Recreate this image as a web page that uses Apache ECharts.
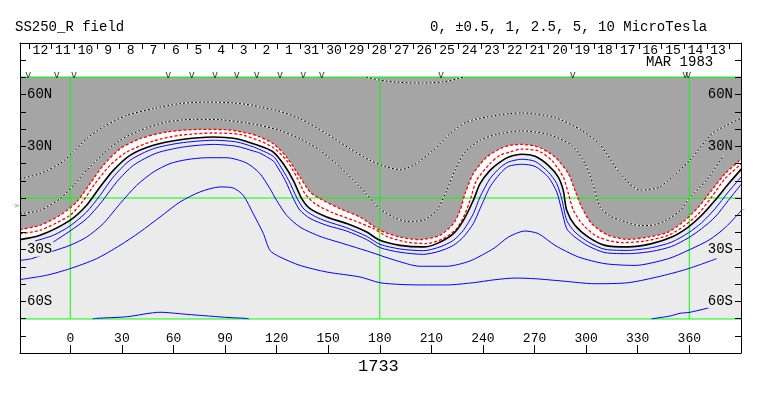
<!DOCTYPE html>
<html><head><meta charset="utf-8">
<script src="https://cdn.jsdelivr.net/npm/echarts@6/dist/echarts.min.js"></script>
<style>html,body{margin:0;padding:0;background:#fff}#c{width:763px;height:396px}</style>
</head><body><div id="c"></div>
<script>
// ---- data: [Carrington longitude, latitude] ----
const neutralLine = [[-29.3,-24.1],[-17.6,-21.6],[-0.2,-12.9],[9.5,-4.2],[17.3,6.4],[25.0,16.0],[34.7,24.7],[48.3,30.5],[63.8,33.7],[83.2,35.3],[96.8,34.3],[106.4,31.4],[112.0,29.5],[118.1,26.6],[123.9,19.8],[129.7,10.2],[134.6,-0.4],[139.4,-6.2],[149.1,-11.0],[160.8,-14.8],[172.4,-19.7],[180.1,-24.5],[191.8,-27.4],[205.3,-28.3],[213.1,-26.4],[222.8,-20.6],[228.6,-12.9],[234.4,-1.3],[238.3,8.3],[244.1,16.0],[249.9,20.8],[255.0,23.7],[262.5,25.3],[270.3,24.1],[278.0,18.9],[283.8,12.1],[286.7,4.4],[288.7,-7.1],[293.5,-15.8],[301.3,-22.6],[311.0,-27.4],[324.5,-28.3],[338.1,-26.4],[349.8,-22.6],[359.4,-16.8],[367.2,-10.0],[375.0,-1.3],[382.7,8.1],[390.5,17.0]];
const redOuter = [[-29.3,-18.3],[-17.6,-15.8],[-6.0,-10.0],[3.7,-2.3],[11.5,8.3],[19.2,18.9],[29.0,28.5],[40.5,34.3],[56.1,38.2],[75.4,39.7],[91.0,39.5],[104.5,37.2],[110.3,35.3],[118.1,31.4],[125.8,23.7],[133.6,12.1],[139.4,3.5],[145.2,-0.4],[156.9,-6.2],[168.5,-11.0],[180.1,-18.7],[191.8,-22.6],[203.4,-24.1],[215.0,-21.6],[222.8,-14.8],[226.7,-7.1],[229.6,2.5],[234.4,14.1],[242.2,23.7],[249.9,28.5],[255.7,30.5],[262.5,31.0],[272.2,29.5],[281.9,23.7],[289.7,14.1],[293.5,4.4],[297.4,-5.2],[303.2,-14.8],[312.9,-21.6],[324.5,-23.9],[336.2,-22.6],[347.8,-19.7],[357.5,-12.9],[365.3,-5.2],[373.0,4.4],[380.8,14.1],[390.5,22.8]];
const redInner = [[-29.3,-20.6],[-17.6,-18.7],[-0.2,-10.0],[7.6,-1.4],[14.4,8.3],[23.1,18.9],[32.8,26.6],[48.3,33.0],[63.8,36.3],[83.2,37.6],[98.7,36.8],[110.3,33.0],[118.1,29.1],[125.8,21.8],[131.7,12.1],[136.5,2.5],[142.3,-3.3],[153.0,-8.7],[164.6,-12.9],[176.3,-17.7],[184.0,-22.2],[195.6,-25.5],[207.3,-26.4],[216.9,-23.5],[224.7,-17.7],[229.6,-9.1],[232.5,-1.4],[236.3,10.2],[244.1,19.9],[249.9,24.7],[255.7,26.6],[262.5,28.3],[272.2,27.2],[280.0,21.8],[286.7,12.1],[289.7,2.5],[292.6,-7.1],[298.4,-15.8],[307.1,-22.6],[320.7,-25.8],[334.2,-24.9],[347.8,-21.6],[357.5,-15.8],[365.3,-9.1],[373.0,0.6],[380.8,11.2],[390.5,19.9]];
const blue1 = [[-20.5,-24.9],[-9.9,-21.6],[-0.2,-16.2],[9.5,-8.1],[17.3,1.5],[25.0,12.1],[34.7,21.8],[48.3,28.5],[63.8,31.8],[83.2,33.4],[96.8,32.4],[106.4,29.6],[110.3,28.0],[118.1,24.1],[121.5,19.5],[127.0,10.2],[132.0,-0.4],[136.0,-6.5],[142.0,-10.5],[149.1,-13.5],[160.7,-17.2],[172.4,-22.2],[180.1,-26.8],[191.8,-29.5],[205.3,-30.5],[215.0,-28.3],[222.8,-24.5],[228.6,-18.7],[234.4,-9.1],[238.3,0.6],[244.1,11.2],[249.9,17.5],[254.8,20.8],[262.5,22.4],[270.3,21.2],[278.0,15.0],[282.9,8.3],[285.8,-0.4],[288.7,-12.9],[293.5,-19.7],[301.3,-25.5],[311.0,-29.7],[324.5,-30.3],[338.1,-28.7],[349.8,-25.5],[359.4,-20.2],[367.2,-14.3],[375.0,-6.2],[382.7,3.5],[390.5,12.5]];
const blue2 = [[-9.9,-25.5],[-0.2,-19.1],[9.5,-12.0],[18.2,-2.3],[27.0,9.3],[36.7,18.9],[50.2,26.0],[65.7,29.5],[83.2,31.0],[96.8,29.9],[106.4,27.2],[110.3,26.0],[118.1,21.4],[119.5,19.5],[125.0,10.2],[129.8,-0.4],[133.5,-7.0],[139.4,-11.8],[149.1,-15.8],[160.7,-19.1],[172.4,-24.1],[180.1,-28.7],[191.8,-31.4],[205.3,-32.6],[215.0,-30.7],[222.8,-27.4],[228.6,-22.6],[234.4,-14.8],[238.3,-6.2],[244.1,6.4],[249.9,14.1],[254.8,18.3],[262.5,19.5],[270.3,18.3],[278.0,12.1],[282.9,3.5],[285.8,-7.1],[288.7,-17.7],[293.5,-22.6],[301.3,-27.8],[311.0,-31.6],[324.5,-32.2],[338.1,-30.9],[349.8,-28.0],[359.4,-23.1],[367.2,-17.7],[375.0,-11.0],[382.7,-1.4],[390.5,8.3]];
const blue3 = [[-29.3,-36.1],[-22.5,-35.1],[-9.9,-30.7],[-0.2,-27.4],[9.5,-22.6],[19.2,-14.8],[28.9,-3.3],[38.6,7.3],[48.3,15.0],[58.0,19.9],[67.7,22.2],[79.3,23.3],[91.0,23.3],[102.6,20.2],[110.3,14.1],[116.1,5.4],[120.0,-1.4],[125.8,-10.0],[133.6,-16.8],[145.2,-22.2],[158.8,-26.4],[174.3,-31.2],[187.9,-35.7],[203.4,-39.5],[218.9,-39.5],[232.5,-36.4],[246.5,-29.0],[254.8,-22.6],[264.4,-19.1],[272.2,-20.6],[281.9,-27.4],[295.5,-34.1],[311.0,-38.0],[328.4,-39.0],[347.8,-35.1],[360.0,-30.0],[372.0,-24.0],[381.0,-17.0],[390.5,-7.0]];
const blue4 = [[-29.3,-47.2],[-13.8,-44.7],[-0.2,-40.9],[15.3,-35.1],[28.9,-27.4],[40.5,-19.7],[52.2,-11.0],[63.8,-2.3],[75.4,3.5],[87.1,6.4],[94.8,5.8],[100.6,1.5],[106.4,-9.1],[112.3,-20.6],[116.1,-30.3],[121.9,-34.1],[133.6,-39.0],[149.1,-42.8],[168.5,-45.7],[180.0,-49.0],[191.8,-50.0],[203.4,-50.3],[218.9,-50.3],[234.4,-49.0],[246.0,-47.4],[258.6,-46.3],[270.3,-46.7],[285.8,-48.0],[305.2,-49.6],[324.5,-49.0],[343.9,-45.1],[359.4,-40.9],[375.9,-35.1]];
const blue5a = [[13.0,-70],[15.4,-69.6],[32.8,-68.7],[52.2,-66.1],[67.7,-67.3],[92.9,-69.2],[101.6,-69.6],[104.0,-70]];
const blue5b = [[338.0,-70],[340.1,-69.6],[348.8,-68.3],[354.6,-66.7],[360.4,-66.1],[374.0,-62.9]];
const posLine1 = [[-29.3,11.0],[-17.6,14.1],[-6.0,19.9],[1.8,26.6],[9.5,34.3],[19.2,41.1],[32.8,47.8],[48.3,51.7],[63.8,54.6],[79.3,55.5],[94.8,55.0],[106.4,53.6],[110.3,52.6],[120.0,50.7],[133.6,45.9],[149.1,37.2],[162.7,28.5],[174.3,21.8],[184.0,17.9],[191.8,16.4],[199.5,18.9],[211.1,27.6],[220.8,37.2],[230.5,44.0],[242.2,46.9],[255.7,48.8],[262.5,49.2],[281.9,46.5],[297.4,39.1],[308.0,31.0],[319.7,14.3],[331.3,4.6],[343.0,6.5],[360.4,22.0],[373.8,37.6],[390.5,46.3]];
const posLine2 = [[-29.3,-9.1],[-17.6,-7.1],[-6.0,-0.4],[1.8,7.3],[9.5,16.0],[19.2,25.6],[28.9,33.4],[40.5,39.1],[56.1,44.0],[71.6,45.5],[87.1,45.3],[102.6,43.4],[110.3,42.0],[121.9,39.1],[133.6,34.3],[145.2,27.6],[156.9,17.9],[168.5,6.4],[180.1,-6.2],[187.9,-11.0],[195.6,-13.5],[205.3,-12.9],[213.1,-7.1],[218.9,4.4],[223.7,16.0],[229.6,26.6],[238.3,33.4],[248.0,36.8],[262.5,38.8],[278.0,36.8],[291.6,30.5],[299.3,20.0],[304.0,8.0],[308.0,-5.0],[314.0,-10.5],[319.7,-12.7],[331.3,-16.0],[340.0,-15.5],[346.9,-12.7],[355.0,-7.0],[360.0,-0.2],[370.1,10.4],[379.8,24.3]];
const posLine3 = [[172.0,70],[180.0,68.2],[190.0,67.0],[205.0,66.5],[217.0,67.2],[226.0,69.2],[229.0,70]];

// ---- axis / tick labels ----
const lonTicks = [0,30,60,90,120,150,180,210,240,270,300,330,360];
const gridLons = [0,180,360];
const gridLats = [70,0,-70];
const latTicks = [60,30,-30,-60];
const dayTicks = [-24.0,-10.9,2.3,15.4,28.6,41.7,54.8,68.0,81.1,94.3,107.4,120.5,133.7,146.8,160.0,173.1,186.2,199.4,212.5,225.7,238.8,251.9,265.1,278.2,291.4,304.5,317.6,330.8,343.9,357.1,370.2,383.3];
const dayCenters = [-17.4,-4.3,8.9,22.0,35.1,48.3,61.4,74.5,87.7,100.8,114.0,127.1,140.2,153.4,166.5,179.7,192.8,205.9,219.1,232.2,245.3,258.5,271.6,284.8,297.9,311.0,324.2,337.3,350.5,363.6,376.7];
const dayLabels = ['12','11','10','9','8','7','6','5','4','3','2','1','31','30','29','28','27','26','25','24','23','22','21','20','19','18','17','16','15','14','13'];
const obsMarks = [-24.4,-7.9,2.2,57.0,70.6,84.2,96.8,108.4,122.0,135.5,146.2,215.6,292.2,357.6,359.4];
const titleText = 'SS250_R field';
const levelText = '0, \u00b10.5, 1, 2.5, 5, 10 MicroTesla';
const monthText = 'MAR 1983';
const rotationText = '1733';

const FONT = '"Liberation Mono","DejaVu Sans Mono",monospace';
const DARK = '#a5a5a5', LIGHT = '#ebebeb';
const X_MIN = -29.25, X_MAX = 390.07, LAT_MAX = 70;
const SMOOTH = 0.25;

function dayLabel(v){
  let best = 0, bd = 1e9;
  dayCenters.forEach((c,i)=>{const d=Math.abs(c-v); if(d<bd){bd=d;best=i;}});
  return dayLabels[best];
}
function latFmt(v){
  const t = Math.abs(v) + (v>0?'N':'S');
  return '{' + (v>0?'d':'l') + '|' + t + '}';
}
const latRich = {
  d:{backgroundColor:DARK,color:'#000',fontFamily:FONT,fontSize:14},
  l:{backgroundColor:LIGHT,color:'#000',fontFamily:FONT,fontSize:14}
};
function contour(data, color, width, type, z){
  return {type:'line', xAxisIndex:0, yAxisIndex:0, data:data, symbol:'none', showSymbol:false,
    smooth:SMOOTH, silent:true, z:z||3, lineStyle:{color:color,width:width,type:type||'solid'}};
}
function fillAbove(data, color){
  return {type:'line', xAxisIndex:0, yAxisIndex:0, data:data, symbol:'none', showSymbol:false,
    smooth:SMOOTH, silent:true, z:1, lineStyle:{width:0,opacity:0}, areaStyle:{color:color,opacity:1,origin:'end'}};
}
function gridLine(data){
  return {type:'line', xAxisIndex:0, yAxisIndex:0, data:data, symbol:'none', showSymbol:false, clip:false,
    silent:true, z:2, lineStyle:{color:'#00ff00', width:1}};
}
const axLine = {show:true, onZero:false, lineStyle:{color:'#000', width:1}};

const series = [
  fillAbove(neutralLine, '#ffffff'),
  fillAbove(redOuter, DARK)
].concat(
  gridLats.map(v=>gridLine([[X_MIN,v],[X_MAX,v]])),
  gridLons.map(v=>gridLine([[v,-LAT_MAX],[v,LAT_MAX]]))
).concat([
  contour(posLine1, '#ffffff', 1),
  contour(posLine1, '#000000', 1, [2,2]),
  contour(posLine2, '#ffffff', 1),
  contour(posLine2, '#000000', 1, [2,2]),
  contour(posLine3, '#ffffff', 1),
  contour(posLine3, '#000000', 1, [2,2]),
  contour(redOuter, '#ff0000', 1.3, [3,2]),
  contour(redInner, '#ff0000', 1.3, [3,2]),
  contour(neutralLine, '#000000', 1.6),
  contour(blue1, '#0000ff', 1),
  contour(blue2, '#0000ff', 1),
  contour(blue3, '#0000ff', 1),
  contour(blue4, '#0000ff', 1),
  contour(blue5a, '#0000ff', 1),
  contour(blue5b, '#0000ff', 1),
  {type:'scatter', xAxisIndex:1, yAxisIndex:1, data: obsMarks.map(l=>[l,71.5]), symbolSize:1,
    itemStyle:{color:'rgba(0,0,0,0)'}, silent:true, z:6,
    label:{show:true, position:'inside', formatter:'v', color:'#000', fontFamily:FONT, fontSize:10}}
]);

const option = {
  animation:false,
  backgroundColor:'#ffffff',
  grid:[
    {left:20, right:22, top:77, height:242, show:true, backgroundColor:LIGHT, borderWidth:0},
    {left:20, right:22, top:43, height:310, show:false}
  ],
  xAxis:[
    {gridIndex:0, type:'value', min:X_MIN, max:X_MAX, show:false},
    {gridIndex:1, type:'value', min:X_MIN, max:X_MAX, position:'bottom', z:5,
      axisLine:axLine, splitLine:{show:false},
      axisTick:{show:true, inside:true, length:8, customValues:lonTicks, lineStyle:{color:'#000'}},
      axisLabel:{show:true, inside:true, margin:8, customValues:lonTicks, color:'#000', fontFamily:FONT, fontSize:13}},
    {gridIndex:1, type:'value', min:X_MIN, max:X_MAX, position:'top', z:5,
      axisLine:axLine, splitLine:{show:false},
      axisTick:{show:true, inside:true, length:6, customValues:dayTicks, lineStyle:{color:'#000'}},
      axisLabel:{show:true, inside:true, margin:1, customValues:dayCenters, formatter:dayLabel, color:'#000', fontFamily:FONT, fontSize:13}}
  ],
  yAxis:[
    {gridIndex:0, type:'value', min:-LAT_MAX, max:LAT_MAX, show:false},
    {gridIndex:1, type:'value', min:-90, max:90, interval:10, position:'left', z:5,
      axisLine:axLine, splitLine:{show:false},
      axisTick:{show:true, inside:true, length:6, lineStyle:{color:'#000'}},
      axisLabel:{show:true, inside:true, margin:7, customValues:latTicks, formatter:latFmt, rich:latRich, color:'#000'}},
    {gridIndex:1, type:'value', min:-90, max:90, interval:10, position:'right', z:5,
      axisLine:axLine, splitLine:{show:false},
      axisTick:{show:true, inside:true, length:6, lineStyle:{color:'#000'}},
      axisLabel:{show:true, inside:true, margin:8, customValues:latTicks, formatter:latFmt, rich:latRich, color:'#000'}}
  ],
  graphic:[
    {type:'text', left:15, top:20, style:{text:titleText, font:'14px '+FONT, fill:'#000'}},
    {type:'text', left:430, top:20, style:{text:levelText, font:'14px '+FONT, fill:'#000'}},
    {type:'text', left:646, top:55, z:10, style:{text:monthText, font:'14px '+FONT, fill:'#000'}},
    {type:'text', left:358, top:358, style:{text:rotationText, font:'17px '+FONT, fill:'#000'}},
    {type:'text', left:14, top:202, style:{text:'>', font:'8px '+FONT, fill:'#00cc00'}},
    {type:'text', left:741, top:205, style:{text:'-', font:'8px '+FONT, fill:'#00cc00'}}
  ],
  series:series
};
const chart = echarts.init(document.getElementById('c'), null, {renderer:'canvas'});
chart.setOption(option);
</script></body></html>
